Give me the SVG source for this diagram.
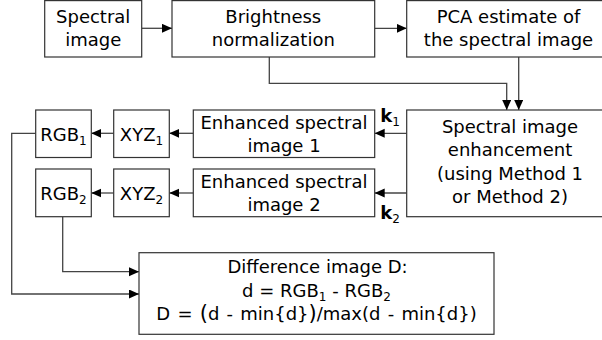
<svg xmlns="http://www.w3.org/2000/svg" width="602" height="340" viewBox="0 0 602 340">
<style>
  .box { fill: #ffffff; stroke: #333333; stroke-width: 1.2; }
  .lbl { font-family: "DejaVu Sans", sans-serif; font-size: 18px; fill: #000000; text-anchor: middle; }
  .sub { font-size: 12px; }
  .conn { fill: none; stroke: #444444; stroke-width: 1.3; }
</style>
<defs>
  <marker id="arr" markerUnits="userSpaceOnUse" markerWidth="11" markerHeight="10" refX="10" refY="4.5" orient="auto">
    <path d="M0,0 L10,4.5 L0,9 z" fill="#000000"/>
  </marker>
</defs>
<rect width="602" height="340" fill="#ffffff"/>

<g id="connectors">
  <path class="conn" d="M141.7,28.3 H172" marker-end="url(#arr)"/>
  <path class="conn" d="M374.7,28.3 H406.7" marker-end="url(#arr)"/>
  <path class="conn" d="M269.3,57 V83.3 H506.7 V110" marker-end="url(#arr)"/>
  <path class="conn" d="M518.7,57 V110" marker-end="url(#arr)"/>
  <path class="conn" d="M406.7,133.3 H374.7" marker-end="url(#arr)"/>
  <path class="conn" d="M406.7,193 H374.7" marker-end="url(#arr)"/>
  <path class="conn" d="M193.3,133.3 H169.3" marker-end="url(#arr)"/>
  <path class="conn" d="M193.3,193 H169.3" marker-end="url(#arr)"/>
  <path class="conn" d="M113.7,133.3 H91.3" marker-end="url(#arr)"/>
  <path class="conn" d="M113.7,193 H91.3" marker-end="url(#arr)"/>
  <path class="conn" d="M35.7,133.3 H11.7 V294 H139" marker-end="url(#arr)"/>
  <path class="conn" d="M62.7,216.7 V271.7 H139" marker-end="url(#arr)"/>
</g>

<g id="spectral-image">
  <rect class="box" x="44.7" y="0.6" width="97" height="56.4"/>
  <text class="lbl" x="93.2" y="22.7">Spectral</text>
  <text class="lbl" x="93.2" y="45.7">image</text>
</g>

<g id="brightness">
  <rect class="box" x="172" y="0.6" width="202.7" height="56.4"/>
  <text class="lbl" x="273.3" y="22.7">Brightness</text>
  <text class="lbl" x="273.3" y="45.7">normalization</text>
</g>

<g id="pca">
  <rect class="box" x="406.7" y="0.6" width="206" height="56.4"/>
  <text class="lbl" x="508.5" y="22.7">PCA estimate of</text>
  <text class="lbl" x="508.5" y="45.7">the spectral image</text>
</g>

<g id="enhancement">
  <rect class="box" x="406.7" y="110" width="206" height="106.7"/>
  <text class="lbl" x="510" y="132.7">Spectral image</text>
  <text class="lbl" x="510" y="156">enhancement</text>
  <text class="lbl" x="510" y="179.5">(using Method 1</text>
  <text class="lbl" x="510" y="203">or Method 2)</text>
</g>

<g id="k-labels">
  <text class="lbl" x="390" y="121.7"><tspan font-weight="bold">k</tspan><tspan class="sub" dy="4">1</tspan></text>
  <text class="lbl" x="390" y="219"><tspan font-weight="bold">k</tspan><tspan class="sub" dy="4">2</tspan></text>
</g>

<g id="enhanced-1">
  <rect class="box" x="193.3" y="110" width="181.4" height="47.5"/>
  <text class="lbl" x="284" y="129">Enhanced spectral</text>
  <text class="lbl" x="284" y="151.7">image 1</text>
</g>

<g id="enhanced-2">
  <rect class="box" x="193.3" y="169" width="181.4" height="47.7"/>
  <text class="lbl" x="284" y="188">Enhanced spectral</text>
  <text class="lbl" x="284" y="210.7">image 2</text>
</g>

<g id="xyz1">
  <rect class="box" x="113.7" y="110" width="55.6" height="47.5"/>
  <text class="lbl" x="141.5" y="140.7">XYZ<tspan class="sub" dy="4">1</tspan></text>
</g>

<g id="xyz2">
  <rect class="box" x="113.7" y="169" width="55.6" height="47.7"/>
  <text class="lbl" x="141.5" y="199.7">XYZ<tspan class="sub" dy="4">2</tspan></text>
</g>

<g id="rgb1">
  <rect class="box" x="35.7" y="110" width="55.6" height="47.5"/>
  <text class="lbl" x="63.5" y="140.7">RGB<tspan class="sub" dy="4">1</tspan></text>
</g>

<g id="rgb2">
  <rect class="box" x="35.7" y="169" width="55.6" height="47.7"/>
  <text class="lbl" x="63.5" y="199.7">RGB<tspan class="sub" dy="4">2</tspan></text>
</g>

<g id="difference">
  <rect class="box" x="139" y="252.7" width="355" height="81.6"/>
  <text class="lbl" x="317.5" y="273.3">Difference image D:</text>
  <text class="lbl" x="316.5" y="296.7">d = RGB<tspan class="sub" dy="4">1</tspan><tspan dy="-4"> - RGB</tspan><tspan class="sub" dy="4">2</tspan></text>
  <text class="lbl" x="316.5" y="320" word-spacing="1.5">D = <tspan font-size="21px">(</tspan>d - min{d}<tspan font-size="21px">)</tspan>/max(d - min{d})</text>
</g>
</svg>
